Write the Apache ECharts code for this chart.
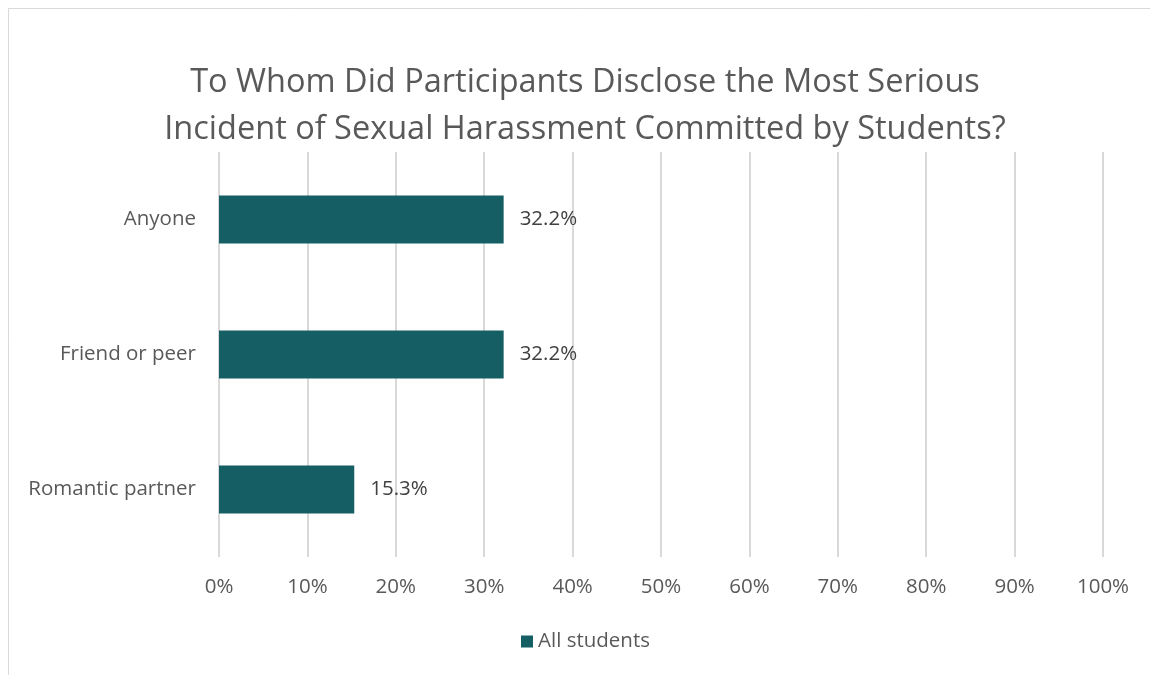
<!DOCTYPE html>
<html><head><meta charset="utf-8">
<script src="https://cdn.jsdelivr.net/npm/echarts@6/dist/echarts.min.js"></script>
<style>html,body{margin:0;padding:0;background:#fff}#c{width:1150px;height:675px}</style>
</head><body><div id="c"></div>
<script>
const categories = ["Romantic partner", "Friend or peer", "Anyone"];
const allStudents = [15.3, 32.2, 32.2];
const seriesName = "All students";
const titleLines = ["To Whom Did Participants Disclose the Most Serious", "Incident of Sexual Harassment Committed by Students?"];

const FONT = "Open Sans";
const FS = 20.5;
const chart = echarts.init(document.getElementById('c'));
chart.setOption({
  backgroundColor: '#fff',
  animation: false,
  graphic: [{type:'rect', shape:{x:8.5,y:8.5,width:1200,height:700}, style:{fill:'none', stroke:'#d9d9d9', lineWidth:1}, silent:true}],
  title: {text: titleLines.join('\n'), left: 580, textAlign:'center', top: 54,
    textStyle:{fontFamily:FONT, fontSize:32.5, fontWeight:'normal', color:'#595959', lineHeight:47}},
  legend: {bottom: 18, left: 516, itemWidth:12, itemHeight:12, itemGap:7, icon:'rect',
    textStyle:{fontFamily:FONT, fontSize:FS, color:'#595959'}, data:[seriesName]},
  grid: {left:219, right:47, top:152, bottom:118},
  xAxis: {type:'value', min:0, max:100, interval:10,
    axisLabel:{formatter:'{value}%', fontFamily:FONT, fontSize:FS, color:'#595959', margin:20},
    splitLine:{lineStyle:{color:'#d9d9d9', width:2}}, axisLine:{show:false}, axisTick:{show:false}},
  yAxis: {type:'category', data:categories, axisLine:{show:false}, axisTick:{show:false},
    axisLabel:{fontFamily:FONT, fontSize:FS, color:'#595959', margin:23}},
  series: [{name:seriesName, type:'bar', data:allStudents, barWidth:48, itemStyle:{color:'#145e64'},
    label:{show:true, position:'right', distance:16, formatter: p => p.value.toFixed(1)+'%',
      fontFamily:FONT, fontSize:FS, color:'#404040'}}]
});
</script></body></html>
